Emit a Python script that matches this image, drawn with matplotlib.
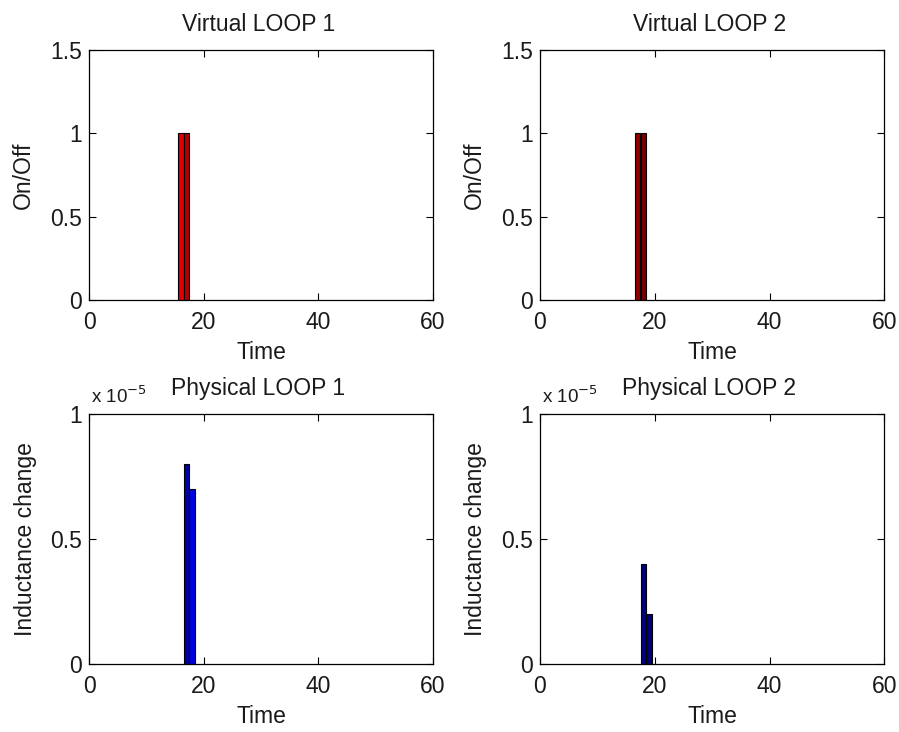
import matplotlib
matplotlib.use("Agg")
import matplotlib.pyplot as plt
from matplotlib.ticker import FuncFormatter

plt.rcParams['font.family'] = ['Liberation Sans', 'DejaVu Sans']

# Data
v1_time = [16, 17]
v1_vals = [1, 1]
v1_colors = ['#e00000', '#b00000']

v2_time = [17, 18]
v2_vals = [1, 1]
v2_colors = ['#900000', '#7a0000']

p1_time = [17, 18]
p1_vals = [0.8e-5, 0.7e-5]
p1_colors = ['#0000a8', '#0000e0']

p2_time = [18, 19]
p2_vals = [0.4e-5, 0.2e-5]
p2_colors = ['#000080', '#000070']

titles = ['Virtual LOOP 1', 'Virtual LOOP 2', 'Physical LOOP 1', 'Physical LOOP 2']
x_ticks = [0, 20, 40, 60]
top_yticks = [0, 0.5, 1, 1.5]
bot_yticks = [0, 0.5e-5, 1e-5]

fig = plt.figure(figsize=(8.99, 7.32), dpi=100)
W, H = 899, 732

def make_ax(left, top, right, bottom):
    return fig.add_axes([left / W, 1 - bottom / H, (right - left) / W, (bottom - top) / H])

axes = [
    make_ax(89.3, 50, 432.7, 300),
    make_ax(540, 50, 884.3, 300),
    make_ax(89.3, 414, 432.7, 664.3),
    make_ax(540, 414, 884.3, 664.3),
]

data = [(v1_time, v1_vals, v1_colors, 1.0),
        (v2_time, v2_vals, v2_colors, 0.9),
        (p1_time, p1_vals, p1_colors, 1.0),
        (p2_time, p2_vals, p2_colors, 0.9)]

fs = 16.5
txt = '#1a1a1a'
for i, (ax, (t, v, c, w)) in enumerate(zip(axes, data)):
    ax.bar(t, v, width=w, color=c, edgecolor='black', linewidth=0.8, zorder=2)
    ax.set_xlim(0, 60)
    ax.set_xticks(x_ticks)
    ax.tick_params(direction='in', top=True, right=True, length=5, width=0.8,
                   labelsize=fs, pad=5, labelcolor=txt)
    ax.tick_params(axis='x', pad=8)
    for s in ax.spines.values():
        s.set_linewidth(0.9)
    ax.set_xlabel('Time', fontsize=fs, labelpad=5, color=txt)
    if i < 2:
        ax.set_ylim(0, 1.5)
        ax.set_yticks(top_yticks)
        ax.set_yticklabels(['0', '0.5', '1', '1.5'])
        ax.set_ylabel('On/Off', fontsize=fs, labelpad=11, color=txt)
        ax.set_title(titles[i], fontsize=fs, pad=14, x=0.493, color=txt)
    else:
        ax.set_ylim(0, 1e-5)
        ax.set_yticks(bot_yticks)
        ax.yaxis.set_major_formatter(FuncFormatter(lambda y, p: f'{y/1e-5:g}'))
        ax.set_ylabel('Inductance change', fontsize=fs, labelpad=10, color=txt)
        ax.set_title(titles[i], fontsize=fs, pad=14, x=0.49, color=txt)
        ax.text(0.005, 1.045, r'x 10$^{-5}$', transform=ax.transAxes, fontsize=13.5,
                ha='left', va='baseline', color=txt)

fig.savefig('out.png', dpi=100)
